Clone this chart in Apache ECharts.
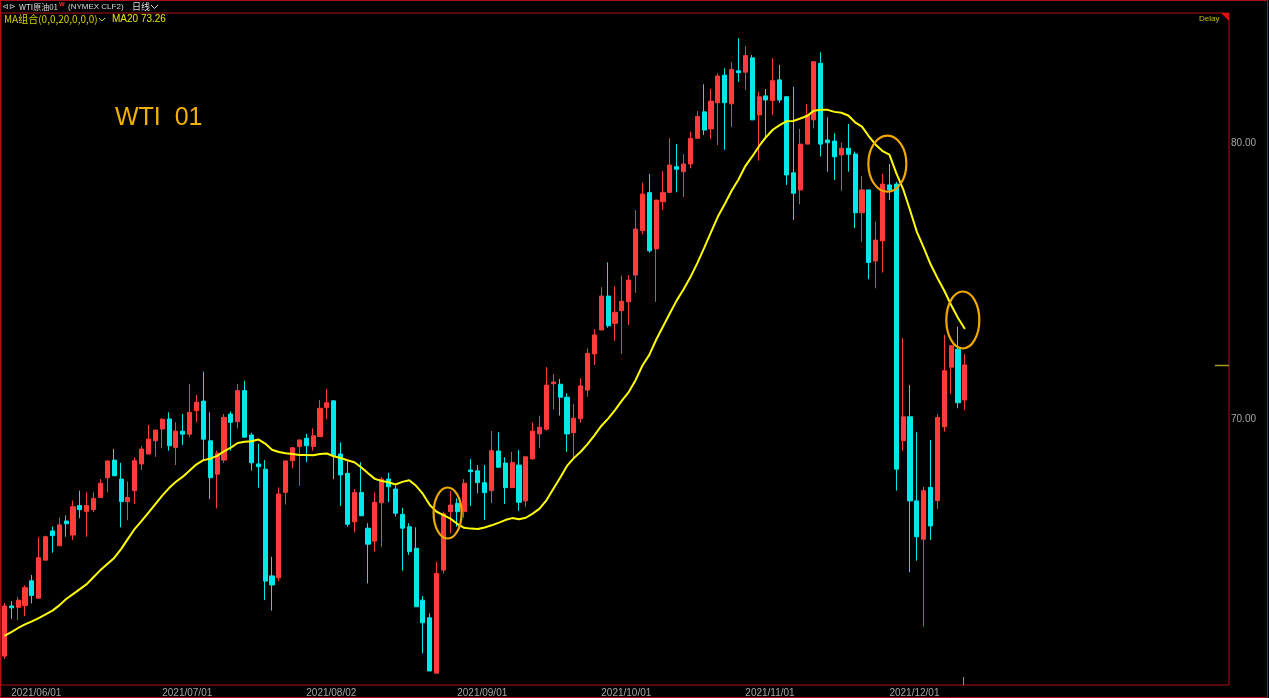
<!DOCTYPE html>
<html><head><meta charset="utf-8">
<script src="https://cdn.jsdelivr.net/npm/echarts@6/dist/echarts.min.js"></script>
<style>html,body{margin:0;padding:0;background:#000;overflow:hidden}#c{width:1269px;height:698px;}</style>
</head><body><div id="c"></div>
<script>
// ---- data ----
const opens=[61.40,63.22,63.17,63.23,64.13,63.50,64.88,65.94,65.40,66.30,
65.79,66.86,66.65,66.71,67.15,67.87,68.51,67.82,67.00,67.40,
68.37,68.73,69.21,69.64,70.00,68.97,69.56,69.45,70.30,70.65,
69.21,68.00,68.51,70.18,69.90,71.03,69.42,68.37,68.18,64.31,
64.24,67.34,68.49,69.00,69.30,69.00,69.36,70.41,70.66,68.73,
68.03,66.27,67.33,66.04,65.57,66.96,67.82,67.46,66.54,66.09,
65.31,63.43,62.79,60.78,64.52,66.64,66.94,66.64,68.15,68.12,
67.69,67.40,68.84,68.40,67.51,68.33,67.03,68.55,69.46,69.63,
71.28,71.26,70.79,69.50,70.01,71.05,72.36,73.23,74.46,73.47,
73.93,74.25,75.22,76.83,78.21,76.17,77.88,78.22,79.15,78.97,
79.25,80.18,81.14,80.52,81.47,82.47,81.43,82.63,82.58,83.10,
81.03,81.72,81.55,82.30,81.69,78.93,78.31,79.97,80.85,82.90,
80.12,80.08,79.58,79.82,79.61,77.48,78.31,75.73,76.46,78.49,
78.52,69.21,70.08,67.03,65.64,67.52,67.04,69.72,71.88,72.53,
70.69];
const closes=[63.22,63.15,63.43,63.88,63.60,64.97,65.73,65.77,66.16,66.20,
66.82,66.71,66.86,67.12,67.67,68.48,67.94,67.00,67.15,68.49,
68.91,69.27,69.60,69.99,69.03,69.56,69.45,70.24,70.61,69.27,
67.87,68.76,70.06,69.88,71.03,69.34,68.41,68.27,64.12,63.98,
67.28,68.48,68.96,69.24,69.03,69.39,70.39,70.59,68.67,67.97,
66.18,67.33,66.49,65.46,66.98,67.82,67.54,66.58,66.04,65.19,
63.19,62.61,60.86,64.40,66.56,66.88,66.64,67.67,68.09,67.69,
67.33,68.85,68.25,67.51,68.42,66.98,68.63,69.56,69.70,71.23,
71.34,70.79,69.46,70.03,71.20,72.38,73.05,74.46,73.38,73.87,
74.27,75.04,76.89,78.16,76.10,77.94,78.21,79.21,79.06,79.25,
80.18,80.97,80.48,81.53,82.44,81.47,82.68,82.56,83.18,80.85,
81.69,81.57,82.27,81.57,78.85,78.19,79.97,81.03,82.96,79.97,
80.02,79.51,79.82,79.60,77.48,78.31,75.68,76.49,78.52,78.31,
68.18,70.08,67.03,65.73,67.40,66.12,70.05,71.75,72.66,70.59,
71.96];
const lows=[61.30,62.75,62.70,62.85,63.31,63.50,64.88,65.15,65.40,65.73,
65.61,66.40,65.73,66.62,67.15,67.34,67.94,66.07,66.33,66.92,
68.15,68.73,68.63,68.94,68.85,68.33,69.06,69.34,69.88,68.51,
67.10,66.76,68.41,68.85,69.66,69.34,68.13,67.51,63.43,63.05,
64.12,66.90,68.21,67.58,68.43,68.85,69.36,69.99,67.82,66.85,
66.09,65.89,66.49,64.04,65.19,65.37,66.98,66.46,64.50,65.07,
63.19,61.50,60.86,60.78,64.40,65.85,66.09,66.43,66.85,67.30,
66.34,66.96,68.25,66.92,67.51,66.67,66.82,68.55,68.94,69.58,
70.35,70.12,68.81,68.57,69.87,70.81,71.96,73.23,73.31,72.84,
72.36,73.41,74.58,76.71,76.03,74.25,77.58,78.19,78.22,78.06,
79.09,80.18,80.30,80.16,79.94,79.76,80.60,82.23,81.93,80.85,
79.37,80.18,81.03,81.47,78.49,77.22,77.79,79.97,80.54,79.52,
78.97,78.67,78.28,78.97,76.92,76.43,75.07,74.74,75.31,77.94,
67.40,68.85,64.44,64.86,62.47,65.61,66.74,69.54,70.91,70.39,
70.33];
const highs=[63.33,63.40,63.55,63.97,64.34,65.71,65.77,66.10,66.42,66.50,
67.04,67.40,67.34,67.34,67.82,68.48,68.91,68.41,67.73,68.61,
69.02,69.78,69.60,70.03,70.24,69.88,70.18,71.27,70.87,71.72,
70.24,68.85,70.18,70.27,71.27,71.39,69.50,69.10,68.51,65.00,
67.52,68.48,68.96,69.24,69.46,69.66,70.69,71.09,70.66,69.15,
68.49,67.46,68.43,66.22,67.33,67.89,68.05,67.58,66.78,66.22,
66.07,63.58,62.95,64.82,66.64,67.39,67.12,67.82,68.55,68.33,
68.33,69.56,69.52,68.61,68.81,68.88,68.63,69.87,70.12,71.88,
71.63,71.45,70.93,70.54,71.48,72.56,73.26,74.78,75.68,74.82,
75.20,75.22,77.58,78.57,78.89,77.94,78.99,80.18,79.97,79.60,
80.42,81.17,82.14,81.97,82.54,82.72,82.94,83.81,83.53,83.20,
81.87,81.97,83.08,82.84,81.69,82.05,80.52,81.43,82.96,83.30,
80.94,80.36,80.02,80.70,79.70,78.81,78.31,77.16,78.89,79.25,
78.60,72.93,71.23,69.52,67.54,69.24,70.18,73.05,72.66,73.35,
72.36];
// MA20 values at the first 19 bars (window starts before the visible data)
const maLead=[62.13,62.27,62.42,62.55,62.66,62.78,62.91,63.05,63.24,63.47,
63.65,63.83,64.01,64.27,64.52,64.74,64.96,65.28,65.65];
const MA_PERIOD=20;
const tickLabels=['2021/06/01','2021/07/01','2021/08/02','2021/09/01','2021/10/01','2021/11/01','2021/12/01'];
const priceTicks=[70,80];
const holidays=['2021/07/05','2021/09/06','2021/11/25'];
const firstDate=[2021,4,31];
const emptySlots=38; // blank space to the right of the last bar
// annotation circles: [bar index, price, radiusX, radiusY]
const circles=[[64.6,66.59,14,25.5],[128.7,79.26,19,28],[139.7,73.59,16.5,28.5]];

// ---- build ----
function fmt(d){const m=d.getMonth()+1,dd=d.getDate();return d.getFullYear()+'/'+(m<10?'0':'')+m+'/'+(dd<10?'0':'')+dd;}
const dates=[];{const d=new Date(firstDate[0],firstDate[1],firstDate[2]);
while(dates.length<opens.length){const w=d.getDay(),s=fmt(d);if(w!==0&&w!==6&&holidays.indexOf(s)<0)dates.push(s);d.setDate(d.getDate()+1);}}
const categories=dates.concat(new Array(emptySlots).fill(''));
const candles=opens.map((o,i)=>[o,closes[i],lows[i],highs[i]]);
const ma=closes.map((c,i)=>{if(i<MA_PERIOD-1)return maLead[i];let s=0;for(let k=i-MA_PERIOD+1;k<=i;k++)s+=closes[k];return s/MA_PERIOD;});
const maLast=ma[ma.length-1];

const chart=echarts.init(document.getElementById('c'),null,{renderer:'canvas'});
const RED='#ff3b3b',CYAN='#00e8e8',FRAME='#b01010',AX='#a6a6a6';
const FONT='"Liberation Sans", Arial, sans-serif';
chart.setOption({
  backgroundColor:'#000',
  animation:false,
  grid:{left:1,right:40,top:13,bottom:13,show:true,borderColor:FRAME,borderWidth:1},
  xAxis:{type:'category',data:categories,boundaryGap:true,
    axisLine:{show:false},axisTick:{show:false},splitLine:{show:false},
    axisLabel:{interval:(i,v)=>tickLabels.indexOf(v)>=0,color:AX,fontSize:10,fontFamily:FONT,align:'left',margin:3}},
  yAxis:{type:'value',position:'right',min:60.352,max:84.726,scale:true,
    axisLine:{show:false},axisTick:{show:false},splitLine:{show:false},
    axisLabel:{customValues:priceTicks,formatter:v=>v.toFixed(2),color:AX,fontSize:10,fontFamily:FONT,align:'left',margin:2}},
  series:[
    {type:'candlestick',data:candles,barWidth:4.6,
      itemStyle:{color:RED,color0:CYAN,borderColor:RED,borderColor0:CYAN,borderWidth:1}},
    {type:'line',data:ma,showSymbol:false,symbol:'none',lineStyle:{color:'#ffff00',width:2},z:5}
  ]
});

function px(idx,price){const a=Math.floor(idx),f=idx-a;
  const p0=chart.convertToPixel({gridIndex:0},[a,price]),p1=chart.convertToPixel({gridIndex:0},[a+1,price]);
  return [p0[0]+(p1[0]-p0[0])*f,p0[1]];}
const g=[];
g.push({type:'rect',shape:{x:0.5,y:0.5,width:1267,height:697},style:{stroke:FRAME,fill:null,lineWidth:1},silent:true});
// header
g.push({type:'text',x:2,y:7,style:{text:'⊲⊳',fill:'#cfcfcf',font:'8px '+FONT,verticalAlign:'middle'}});
g.push({type:'text',x:19,y:7,style:{text:'WTI原油01',fill:'#dcdcdc',font:'8px "Noto Sans CJK SC", '+FONT,verticalAlign:'middle'}});
g.push({type:'text',x:59,y:4.5,style:{text:'W',fill:'#ff3030',font:'bold 6px '+FONT,verticalAlign:'middle'}});
g.push({type:'text',x:68,y:7,style:{text:'(NYMEX CLF2)',fill:'#dcdcdc',font:'8px '+FONT,verticalAlign:'middle'}});
g.push({type:'text',x:132,y:7,style:{text:'日线',fill:'#dcdcdc',font:'9px "Noto Sans CJK SC", '+FONT,verticalAlign:'middle'}});
g.push({type:'polyline',shape:{points:[[151,5],[154.5,8.5],[158,5]]},style:{stroke:'#dcdcdc',lineWidth:1,fill:null}});
g.push({type:'text',x:4,y:19.5,style:{text:'MA组合(0,0,20,0,0,0)',fill:'#d8cc00',font:'10px "Noto Sans CJK SC", '+FONT,verticalAlign:'middle'}});
g.push({type:'polyline',shape:{points:[[99,18],[102,21],[105,18]]},style:{stroke:'#d8cc00',lineWidth:1,fill:null}});
g.push({type:'text',x:112,y:19.5,style:{text:'MA20 '+maLast.toFixed(2),fill:'#e8e800',font:'10px '+FONT,verticalAlign:'middle'}});
g.push({type:'text',x:1199,y:18.5,style:{text:'Delay',fill:'#c8c400',font:'8px '+FONT,verticalAlign:'middle'}});
g.push({type:'polygon',shape:{points:[[1221,13],[1229,13],[1229,21]]},style:{fill:'#e01010'}});
g.push({type:'text',x:115,y:118,style:{text:'WTI  01',fill:'#f2b000',font:'25px '+FONT,verticalAlign:'middle'}});
// annotation ellipses
circles.forEach(c=>{const p=px(c[0],c[1]);
  g.push({type:'ellipse',shape:{cx:p[0],cy:p[1],rx:c[2],ry:c[3]},style:{stroke:'#f0a800',lineWidth:2.2,fill:null},z:10});});
// last price marker and last bar tick
const lp=px(closes.length-1,closes[closes.length-1]);
g.push({type:'line',shape:{x1:1215,y1:Math.round(lp[1])+0.5,x2:1229,y2:Math.round(lp[1])+0.5},style:{stroke:'#a0a020',lineWidth:1.5}});
g.push({type:'line',shape:{x1:Math.round(lp[0])-1.5,y1:677,x2:Math.round(lp[0])-1.5,y2:685},style:{stroke:'#909090',lineWidth:1}});
chart.setOption({graphic:g});
</script></body></html>
